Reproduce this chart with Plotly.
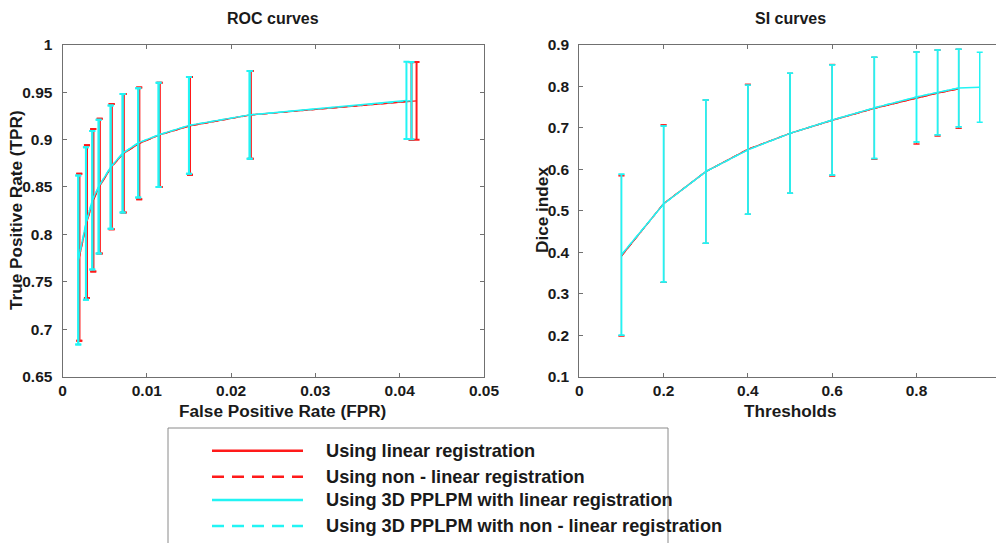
import plotly.graph_objects as go

# ---------------- ROC data ----------------
roc_fpr_lin = [0.00199, 0.0029, 0.00365, 0.00441, 0.00583, 0.00725, 0.0091, 0.01152, 0.01512, 0.02232, 0.0420]
roc_tpr_lin = [0.776, 0.8135, 0.836, 0.851, 0.8715, 0.8855, 0.896, 0.905, 0.9145, 0.926, 0.9408]
roc_err_lin = [0.088, 0.0805, 0.075, 0.071, 0.066, 0.0625, 0.059, 0.055, 0.0515, 0.0463, 0.041]

roc_fpr_nonlin = [0.00199, 0.0029, 0.00365, 0.00441, 0.00583, 0.00725, 0.0091, 0.01152, 0.01512, 0.02232, 0.0414]
roc_tpr_nonlin = [0.776, 0.8135, 0.836, 0.851, 0.8715, 0.8855, 0.896, 0.905, 0.9145, 0.926, 0.9405]
roc_err_nonlin = [0.088, 0.0805, 0.075, 0.071, 0.066, 0.0625, 0.059, 0.055, 0.0515, 0.0463, 0.041]

roc_fpr_pplpm_lin = [0.00187, 0.00278, 0.00353, 0.00429, 0.00571, 0.00713, 0.00898, 0.0114, 0.0150, 0.0222, 0.0408]
roc_tpr_pplpm_lin = [0.773, 0.8115, 0.836, 0.8505, 0.871, 0.8855, 0.8965, 0.905, 0.915, 0.926, 0.9413]
roc_err_pplpm_lin = [0.089, 0.0805, 0.073, 0.0705, 0.065, 0.0625, 0.0575, 0.055, 0.051, 0.0463, 0.0407]

roc_fpr_pplpm_nonlin = [0.00187, 0.00278, 0.00353, 0.00429, 0.00571, 0.00713, 0.00898, 0.0114, 0.0150, 0.0222, 0.0414]
roc_tpr_pplpm_nonlin = [0.773, 0.8115, 0.836, 0.8505, 0.871, 0.8855, 0.8965, 0.905, 0.915, 0.926, 0.9410]
roc_err_pplpm_nonlin = [0.089, 0.0805, 0.073, 0.0705, 0.065, 0.0625, 0.0575, 0.055, 0.051, 0.0463, 0.0407]

# ---------------- SI data ----------------
si_thr_lin = [0.1, 0.2, 0.3, 0.4, 0.5, 0.6, 0.7, 0.8, 0.85, 0.9]
si_dice_lin = [0.391, 0.517, 0.594, 0.648, 0.6865, 0.718, 0.7468, 0.7716, 0.7836, 0.7938]
si_err_lin = [0.193, 0.19, 0.1727, 0.1567, 0.1445, 0.1345, 0.1228, 0.1109, 0.1036, 0.0952]

si_thr_nonlin = [0.1, 0.2, 0.3, 0.4, 0.5, 0.6, 0.7, 0.8, 0.85, 0.9]
si_dice_nonlin = [0.391, 0.517, 0.594, 0.648, 0.6865, 0.718, 0.7468, 0.7716, 0.7836, 0.7938]
si_err_nonlin = [0.193, 0.19, 0.1727, 0.1567, 0.1445, 0.1345, 0.1228, 0.1109, 0.1036, 0.0952]

si_thr_pplpm_lin = [0.1, 0.2, 0.3, 0.4, 0.5, 0.6, 0.7, 0.8, 0.85, 0.9, 0.95]
si_dice_pplpm_lin = [0.394, 0.516, 0.594, 0.6467, 0.6865, 0.7185, 0.7479, 0.774, 0.7851, 0.7957, 0.7974]
si_err_pplpm_lin = [0.194, 0.188, 0.1727, 0.1553, 0.1445, 0.1325, 0.1219, 0.1085, 0.1021, 0.0933, 0.0844]

si_thr_pplpm_nonlin = [0.1, 0.2, 0.3, 0.4, 0.5, 0.6, 0.7, 0.8, 0.85, 0.9]
si_dice_pplpm_nonlin = [0.394, 0.516, 0.594, 0.6467, 0.6865, 0.7185, 0.7479, 0.774, 0.7851, 0.7957]
si_err_pplpm_nonlin = [0.194, 0.188, 0.1727, 0.1553, 0.1445, 0.1325, 0.1219, 0.1085, 0.1021, 0.0933]

# ---------------- labels ----------------
series_names = ["Using linear registration",
                "Using non - linear registration",
                "Using 3D PPLPM with linear registration",
                "Using 3D PPLPM with non - linear registration"]
roc_xticks = [0, 0.01, 0.02, 0.03, 0.04, 0.05]
roc_xticktext = ["0", "0.01", "0.02", "0.03", "0.04", "0.05"]
roc_yticks = [0.65, 0.7, 0.75, 0.8, 0.85, 0.9, 0.95, 1.0]
roc_yticktext = ["0.65", "0.7", "0.75", "0.8", "0.85", "0.9", "0.95", "1"]
si_xticks = [0, 0.2, 0.4, 0.6, 0.8]
si_xticktext = ["0", "0.2", "0.4", "0.6", "0.8"]
si_yticks = [0.1, 0.2, 0.3, 0.4, 0.5, 0.6, 0.7, 0.8, 0.9]
si_yticktext = ["0.1", "0.2", "0.3", "0.4", "0.5", "0.6", "0.7", "0.8", "0.9"]

RED = "#ff1a1a"
CYAN = "#22f4f4"
DASH_PLOT = "6px,4px"
FONT = "Liberation Sans, Arial, Helvetica, sans-serif"
TXT = "#1a1a1a"

fig = go.Figure()


def add(x, y, err, color, dash, xa, ya, thick, lw):
    fig.add_trace(go.Scatter(
        x=x, y=y, mode="lines", xaxis=xa, yaxis=ya, showlegend=False,
        line=dict(color=color, width=lw, dash=dash),
        error_y=dict(type="data", array=err, visible=True, color=color,
                     thickness=thick, width=3),
    ))


# ROC
add(roc_fpr_lin, roc_tpr_lin, roc_err_lin, RED, "solid", "x", "y", 2, 1.4)
add(roc_fpr_nonlin, roc_tpr_nonlin, roc_err_nonlin, RED, DASH_PLOT, "x", "y", 2, 1.4)
add(roc_fpr_pplpm_lin, roc_tpr_pplpm_lin, roc_err_pplpm_lin, CYAN, "solid", "x", "y", 2, 1.4)
add(roc_fpr_pplpm_nonlin, roc_tpr_pplpm_nonlin, roc_err_pplpm_nonlin, CYAN, DASH_PLOT, "x", "y", 2, 1.4)
# SI
add(si_thr_lin, si_dice_lin, si_err_lin, RED, "solid", "x2", "y2", 1, 1.4)
add(si_thr_nonlin, si_dice_nonlin, si_err_nonlin, RED, DASH_PLOT, "x2", "y2", 1, 1.4)
add(si_thr_pplpm_lin, si_dice_pplpm_lin, si_err_pplpm_lin, CYAN, "solid", "x2", "y2", 1.5, 1.4)
add(si_thr_pplpm_nonlin, si_dice_pplpm_nonlin, si_err_pplpm_nonlin, CYAN, DASH_PLOT, "x2", "y2", 1.5, 1.4)

W, H = 996, 543
tickfont = dict(family=FONT, size=15.5, color=TXT, weight="bold")
axis_common = dict(showgrid=False, zeroline=False, showline=True, linecolor="#707070",
                   linewidth=1, ticks="inside", ticklen=4, tickcolor="#707070",
                   tickfont=tickfont, automargin=False)

y_dom = [1 - 376.7 / H, 1 - 44.7 / H]
fig.update_layout(
    width=W, height=H, margin=dict(l=0, r=0, t=0, b=0, pad=0, autoexpand=False),
    paper_bgcolor="white", plot_bgcolor="white",
    xaxis=dict(domain=[62.5 / W, 484 / W], range=[0, 0.05], tickvals=roc_xticks,
               ticktext=roc_xticktext, anchor="y", mirror="ticks", **axis_common),
    yaxis=dict(domain=y_dom, range=[0.65, 1.0], tickvals=roc_yticks,
               ticktext=roc_yticktext, anchor="x", mirror="ticks",
               ticklabelstandoff=6, **axis_common),
    xaxis2=dict(domain=[579.3 / W, 1.0], range=[0, 0.9886], tickvals=si_xticks,
                ticktext=si_xticktext, anchor="y2", mirror="ticks", **axis_common),
    yaxis2=dict(domain=y_dom, range=[0.1, 0.9], tickvals=si_yticks,
                ticktext=si_yticktext, anchor="x2", mirror=False,
                ticklabelstandoff=6, **axis_common),
)


def ann(text, px, py, size, angle=0, xanchor="center"):
    fig.add_annotation(text=text, x=px / W, y=1 - py / H, xref="paper", yref="paper",
                       showarrow=False, textangle=angle, xanchor=xanchor, yanchor="middle",
                       font=dict(family=FONT, size=size, color=TXT, weight="bold"))


ann("ROC curves", 273, 18, 16)
ann("SI curves", 790, 18, 16)
ann("False Positive Rate (FPR)", 282, 411, 17.2)
ann("Thresholds", 790, 411, 17.2)
ann("True Positive Rate (TPR)", 16, 210, 17.2, angle=-90)
ann("Dice index", 542, 210, 17.2, angle=-90)

# manual legend box
fig.add_shape(type="rect", xref="paper", yref="paper",
              x0=168 / W, x1=668 / W, y0=-0.05, y1=1 - 428 / H,
              line=dict(color="#8a8a8a", width=1), fillcolor="white")
leg_rows = [450.7, 476.7, 500, 526]
leg_colors = [RED, RED, CYAN, CYAN]
leg_dash = ["solid", "12px,8px", "solid", "12px,8px"]
for name, py, col, dsh in zip(series_names, leg_rows, leg_colors, leg_dash):
    fig.add_shape(type="line", xref="paper", yref="paper",
                  x0=212 / W, x1=303 / W, y0=1 - py / H, y1=1 - py / H,
                  line=dict(color=col, width=2.5, dash=dsh))
    ann(name, 324, py, 18.2, xanchor="left")

fig.write_html("out.html")
